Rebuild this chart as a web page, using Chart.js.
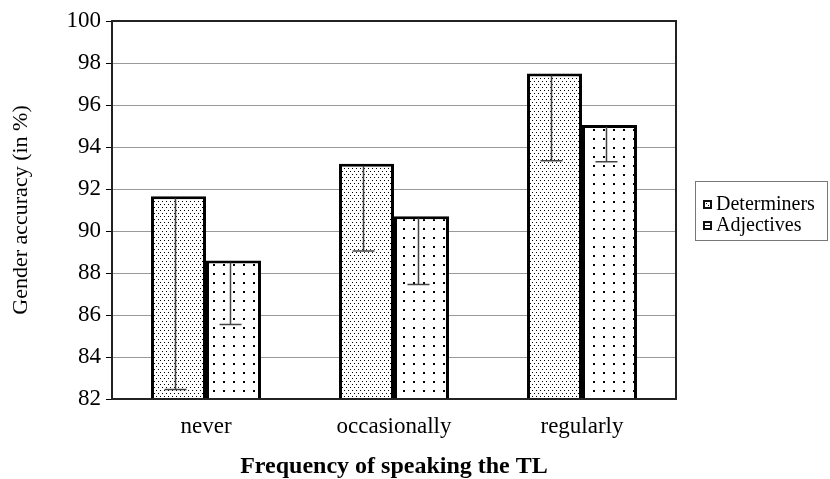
<!DOCTYPE html>
<html>
<head>
<meta charset="utf-8">
<script src="https://cdn.jsdelivr.net/npm/chart.js@4"></script>
<style>
    html, body { margin: 0; padding: 0; background: #fff; }
    #wrap { width: 830px; height: 479px; }
</style>
</head>
<body>
<div id="wrap"><canvas id="chart"></canvas></div>
<script>
// values
const categories = ['never', 'occasionally', 'regularly'];
const seriesNames = ['Determiners', 'Adjectives'];
const determiners = [91.65, 93.2, 97.5];
const adjectives = [88.6, 90.7, 95.05];
// lower end of the error bars
const determinersLow = [82.45, 89.05, 93.35];
const adjectivesLow = [85.55, 87.45, 93.3];
const yTicks = [82, 84, 86, 88, 90, 92, 94, 96, 98, 100];

const FONT = '"Liberation Serif", "Times New Roman", serif';

function makePattern(w, h, dots, size) {
    const c = document.createElement('canvas');
    c.width = w;
    c.height = h;
    const g = c.getContext('2d');
    g.fillStyle = '#fff';
    g.fillRect(0, 0, w, h);
    g.fillStyle = '#000';
    dots.forEach(d => g.fillRect(d[0], d[1], size, size));
    return document.getElementById('chart').getContext('2d').createPattern(c, 'repeat');
}

const densePattern = makePattern(4, 6, [[0, 0], [2, 3]], 1);
const sparsePattern = makePattern(10, 9, [[3, 3]], 2);

// error bars going down from each bar top
const errorBars = {
    id: 'errorBars',
    afterDatasetsDraw(chart) {
        const ctx = chart.ctx;
        const y = chart.scales.y;
        const lows = [determinersLow, adjectivesLow];
        ctx.save();
        ctx.strokeStyle = '#444';
        ctx.lineWidth = 1.5;
        chart.data.datasets.forEach((ds, i) => {
            chart.getDatasetMeta(i).data.forEach((bar, j) => {
                const x = bar.x - 3;
                const yTop = y.getPixelForValue(ds.data[j]) + 2;
                const yLow = y.getPixelForValue(lows[i][j]);
                ctx.beginPath();
                ctx.moveTo(x, yTop);
                ctx.lineTo(x, yLow);
                ctx.moveTo(x - 11, yLow);
                ctx.lineTo(x + 11, yLow);
                ctx.stroke();
            });
        });
        ctx.restore();
    }
};

// plot frame plus the boxed legend on the right
const frameAndLegend = {
    id: 'frameAndLegend',
    afterDraw(chart) {
        const ctx = chart.ctx;
        const a = chart.chartArea;
        ctx.save();
        ctx.strokeStyle = '#222';
        ctx.lineWidth = 2;
        ctx.strokeRect(a.left, a.top, a.right - a.left, a.bottom - a.top);

        ctx.strokeStyle = '#777';
        ctx.lineWidth = 1;
        ctx.strokeRect(695.5, 181.5, 132, 59);

        ctx.font = '20px ' + FONT;
        ctx.textBaseline = 'alphabetic';
        seriesNames.forEach((name, i) => {
            const sy = 200 + i * 21;
            ctx.fillStyle = '#111';
            ctx.fillRect(703, sy, 9, 9);
            ctx.fillStyle = '#fff';
            ctx.fillRect(705, sy + 2, 5, 5);
            ctx.fillStyle = '#111';
            if (i === 0) {
                ctx.fillRect(706, sy + 3, 1, 1);
                ctx.fillRect(708, sy + 5, 1, 1);
            } else {
                ctx.fillRect(705, sy + 4, 5, 1);
            }
            ctx.fillStyle = '#000';
            ctx.fillText(name, 716, sy + 10);
        });
        ctx.restore();
    }
};

new Chart(document.getElementById('chart'), {
    type: 'bar',
    data: {
        labels: categories,
        datasets: [{
            label: seriesNames[0],
            data: determiners,
            backgroundColor: densePattern,
            borderColor: '#000',
            borderWidth: 3,
            borderSkipped: false
        }, {
            label: seriesNames[1],
            data: adjectives,
            backgroundColor: sparsePattern,
            borderColor: '#000',
            borderWidth: 3,
            borderSkipped: false
        }]
    },
    options: {
        responsive: true,
        maintainAspectRatio: false,
        animation: false,
        layout: { padding: { left: 8, right: 154, top: 21, bottom: 0 } },
        datasets: { bar: { categoryPercentage: 0.585, barPercentage: 1 } },
        plugins: {
            legend: { display: false },
            tooltip: { enabled: false }
        },
        scales: {
            x: {
                grid: { display: false },
                border: { display: false },
                ticks: { color: '#000', font: { family: FONT, size: 23 }, padding: 6 },
                title: {
                    display: true,
                    text: 'Frequency of speaking the TL',
                    color: '#000',
                    font: { family: FONT, size: 24, weight: 'bold', lineHeight: 1.05 },
                    padding: { top: 10, bottom: 0 }
                },
                afterFit(scale) { scale.height = 80; }
            },
            y: {
                min: 82,
                max: 100,
                afterBuildTicks(scale) { scale.ticks = yTicks.map(v => ({ value: v })); },
                grid: { color: '#999', lineWidth: 1, tickLength: 6, tickColor: '#000' },
                border: { display: false },
                ticks: { color: '#000', font: { family: FONT, size: 23 }, padding: 5 },
                title: {
                    display: true,
                    text: 'Gender accuracy (in %)',
                    color: '#000',
                    font: { family: FONT, size: 22 },
                    padding: { top: 0, bottom: 4 }
                },
                afterFit(scale) { scale.width = 104; }
            }
        }
    },
    plugins: [errorBars, frameAndLegend]
});
</script>
</body>
</html>
